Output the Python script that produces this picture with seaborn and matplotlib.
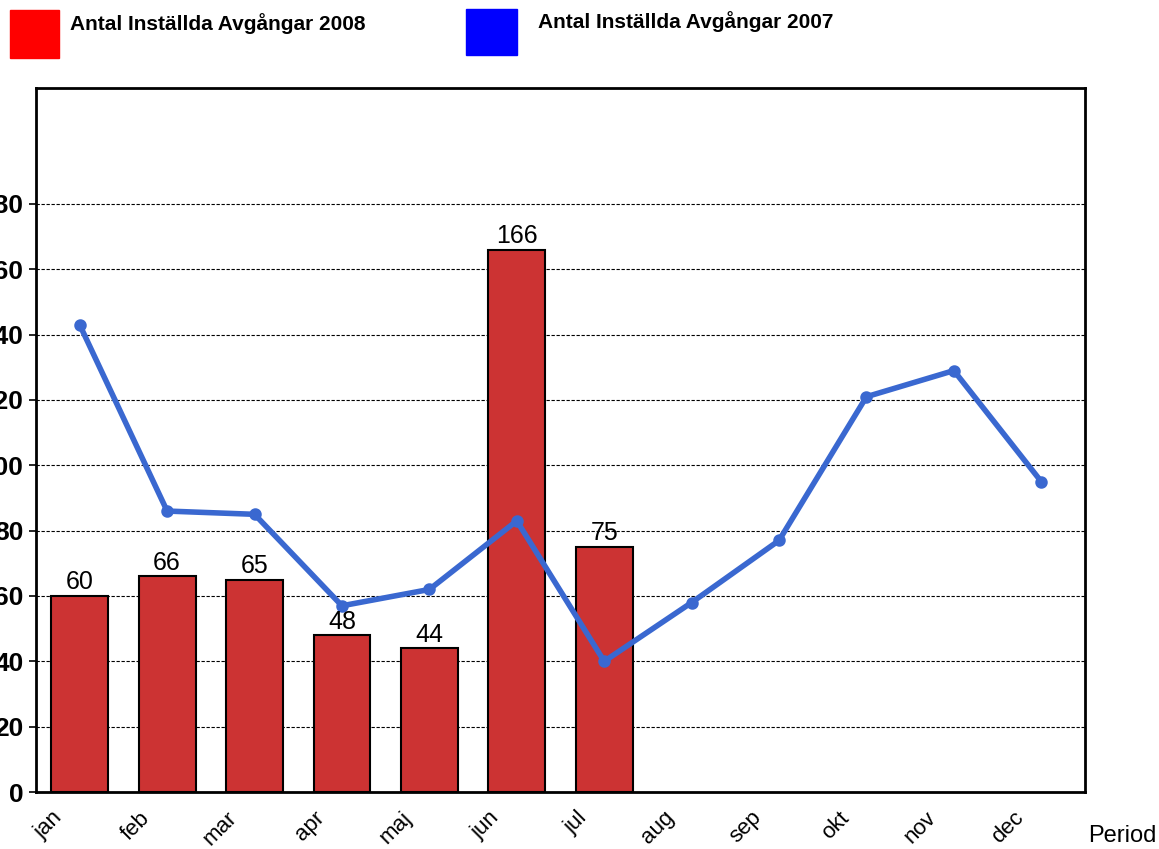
import numpy as np
import pandas as pd
import matplotlib
matplotlib.use('Agg')
import matplotlib.pyplot as plt
import matplotlib.patches as mpatches
import matplotlib.transforms as mtrans
import seaborn as sns

# data
months = ['jan', 'feb', 'mar', 'apr', 'maj', 'jun', 'jul', 'aug', 'sep', 'okt', 'nov', 'dec']
cancel_2008 = [60, 66, 65, 48, 44, 166, 75]
cancel_2007 = [143, 86, 85, 57, 62, 83, 40, 58, 77, 121, 129, 95]
yticks = [0, 20, 40, 60, 80, 100, 120, 140, 160, 180]

sns.set_style('white')
plt.rcParams['font.family'] = ['Liberation Sans', 'DejaVu Sans']
plt.rcParams['text.color'] = 'black'
plt.rcParams['xtick.color'] = 'black'
plt.rcParams['ytick.color'] = 'black'

df08 = pd.DataFrame({'month': months[:len(cancel_2008)], 'value': cancel_2008})
df07 = pd.DataFrame({'month': months, 'value': cancel_2007})

fig = plt.figure(figsize=(11.59, 8.49), dpi=100)
ax = fig.add_axes([36 / 1159, 57 / 849, 1049 / 1159, 704 / 849])

sns.barplot(data=df08, x='month', y='value', order=months, color='#CC3333',
            saturation=1, width=0.65, edgecolor='black', linewidth=1.5, ax=ax, zorder=2)
sns.pointplot(data=df07, x='month', y='value', order=months, color='#3A68D0',
              markers='o', markersize=6, linewidth=4, ax=ax, zorder=3)

# value labels on bars
for i, v in enumerate(cancel_2008):
    ax.text(i, v + 0.5, str(v), ha='center', va='bottom', fontsize=18)

ax.set_xlim(-0.5, 11.5)
ax.set_ylim(0, 215.5)
ax.set_yticks(yticks)
ax.set_yticklabels([str(t) for t in yticks], fontsize=19, fontweight='bold')
ax.set_xticks(range(len(months)))
ax.tick_params(axis='y', direction='out', length=5, width=1.2, pad=4, left=True)
ax.tick_params(axis='x', length=0, pad=11)
ax.set_xticklabels(months, rotation=45, fontsize=16, ha='right', va='top',
                   rotation_mode='anchor')
# shift rotated labels left (after tick_params, which resets transforms)
shift = mtrans.ScaledTranslation(-0.28, 0, fig.dpi_scale_trans)
for lab in ax.xaxis.get_majorticklabels():
    lab.set_transform(lab.get_transform() + shift)
ax.yaxis.grid(True, linestyle='--', color='black', linewidth=0.8, dashes=(3, 1.5))
ax.set_axisbelow(True)
ax.set_xlabel('')
ax.set_ylabel('')
for s in ax.spines.values():
    s.set_color('black')
    s.set_linewidth(2)

# x label at the right
fig.text(1088 / 1159, 1 - 836 / 849, 'Period', fontsize=17, ha='left', va='center')

# legend at top
fig.patches.append(mpatches.Rectangle((10 / 1159, 1 - 58 / 849), 49 / 1159, 48 / 849,
                                      color='#FF0000', transform=fig.transFigure, figure=fig))
fig.patches.append(mpatches.Rectangle((466 / 1159, 1 - 55 / 849), 51 / 1159, 46 / 849,
                                      color='#0000FF', transform=fig.transFigure, figure=fig))
fig.text(70 / 1159, 1 - 24 / 849, 'Antal Inställda Avgångar 2008', fontsize=15,
         fontweight='bold', ha='left', va='center')
fig.text(538 / 1159, 1 - 22 / 849, 'Antal Inställda Avgångar 2007', fontsize=15,
         fontweight='bold', ha='left', va='center')

fig.savefig('out.png', dpi=100)
